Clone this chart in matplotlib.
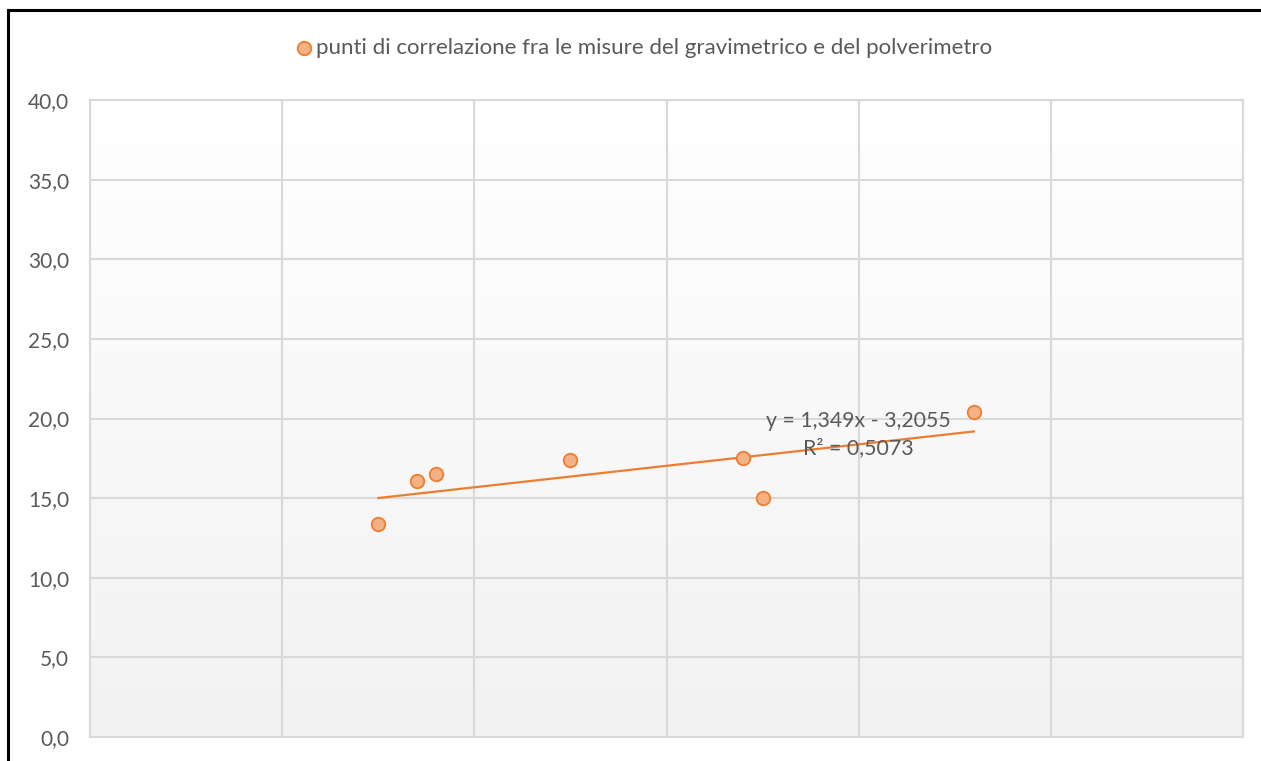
import numpy as np
import matplotlib
matplotlib.use("Agg")
import matplotlib.pyplot as plt
from matplotlib.ticker import FuncFormatter, MultipleLocator
from matplotlib.lines import Line2D

# misure: gravimetrico (x) vs polverimetro (y)
x_vals = [13.5, 13.7, 13.8, 14.5, 15.4, 15.5, 16.6]
y_vals = [13.4, 16.1, 16.5, 17.4, 17.5, 15.0, 20.4]
series_name = "punti di correlazione fra le misure del gravimetrico e del polverimetro"

# trendline coefficients as shown in the label
slope = 1.349
intercept = -3.2055
r2 = 0.5073

grid_col = "#d9d9d9"
text_col = "#595959"
orange = "#ED7D31"
orange_fill = "#F4B183"

plt.rcParams["font.family"] = ["Lato", "DejaVu Sans"]

fig = plt.figure(figsize=(12.61, 7.61), dpi=100)
fig.patch.set_facecolor("white")
ax = fig.add_axes([90 / 1261, 1 - 737 / 761, (1243 - 90) / 1261, (737 - 100) / 761])

ax.set_xlim(12, 18)
ax.set_ylim(0, 40)

# gradient background of plot area
grad = np.linspace(0, 1, 256).reshape(-1, 1)
ax.imshow(grad, extent=(12, 18, 0, 40), aspect="auto", zorder=0,
          cmap=matplotlib.colors.LinearSegmentedColormap.from_list("bg", ["#f2f2f2", "#ffffff"]),
          origin="lower")

ax.xaxis.set_major_locator(MultipleLocator(1))
ax.yaxis.set_major_locator(MultipleLocator(5))
ax.grid(True, color=grid_col, linewidth=1.5, zorder=1)
ax.set_axisbelow(True)
ax.tick_params(axis="both", length=0, labelsize=15, labelcolor=text_col, pad=15)
ax.tick_params(axis="x", labelbottom=False)
ax.yaxis.set_major_formatter(FuncFormatter(lambda v, p: ("%.1f" % v).replace(".", ",")))
for s in ax.spines.values():
    s.set_color(grid_col)
    s.set_linewidth(1.5)

# trendline
xs = np.array([min(x_vals), max(x_vals)])
ax.plot(xs, slope * xs + intercept, color=orange, linewidth=1.6, zorder=3)

ax.scatter(x_vals, y_vals, s=95, facecolor=orange_fill, edgecolor=orange,
           linewidth=1.3, zorder=4, label=series_name)

eq = "y = %sx - %s\nR² = %s" % (("%.3f" % slope).replace(".", ","),
                                ("%.4f" % -intercept).replace(".", ","),
                                ("%.4f" % r2).replace(".", ","))
ax.text(16.0, 19.0, eq, ha="center", va="center", fontsize=15.3, color=text_col,
        linespacing=1.4, zorder=5)

fig.legend(loc="center", bbox_to_anchor=(644 / 1261, 1 - 48 / 761), frameon=False,
           fontsize=16, labelcolor=text_col, handletextpad=0.15, handlelength=0.8,
           markerscale=1.0)

# outer frame (left and top edge visible)
fig.add_artist(Line2D([8 / 1261, 8 / 1261], [0, 1 - 10 / 761], color="black", linewidth=2.2,
                      transform=fig.transFigure))
fig.add_artist(Line2D([8 / 1261, 1], [1 - 10 / 761, 1 - 10 / 761], color="black", linewidth=2.2,
                      transform=fig.transFigure))

fig.savefig("out.png", dpi=100)
